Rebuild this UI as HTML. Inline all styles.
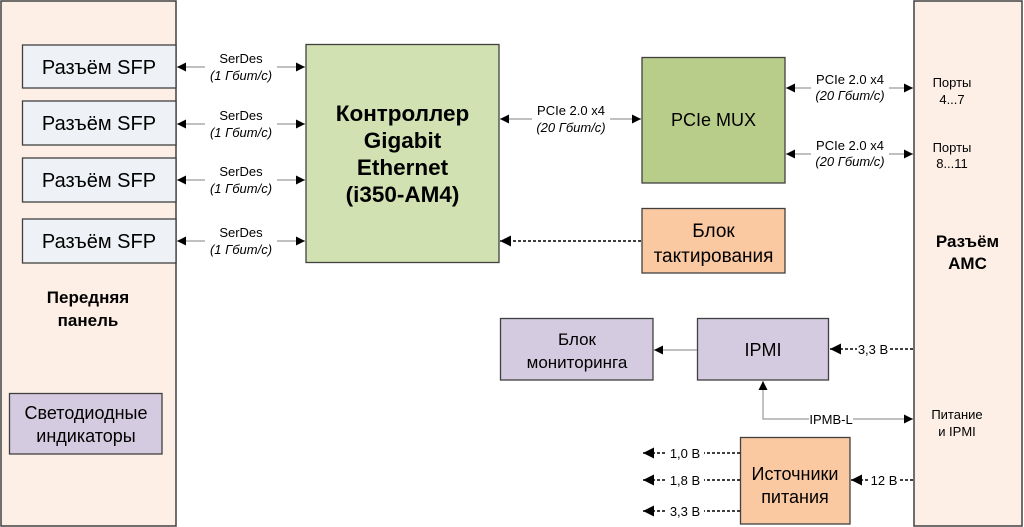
<!DOCTYPE html>
<html><head><meta charset="utf-8"><style>
html,body{margin:0;padding:0;background:#fff;}
svg{display:block;}
text{font-family:"Liberation Sans",Arial,sans-serif;fill:#000;}
.s{font-size:13px;}
.i{font-size:13px;font-style:italic;}
</style></head><body>
<svg width="1024" height="527" viewBox="0 0 1024 527" xmlns="http://www.w3.org/2000/svg">
<defs>
<marker id="ah" viewBox="0 0 10 10" refX="10" refY="5" markerWidth="9" markerHeight="9" markerUnits="userSpaceOnUse" orient="auto-start-reverse">
<path d="M0,0 L10,5 L0,10 z" fill="#000"/>
</marker>
<marker id="ahb" viewBox="0 0 10 10" refX="10" refY="5" markerWidth="11" markerHeight="11" markerUnits="userSpaceOnUse" orient="auto-start-reverse">
<path d="M0,0 L10,5 L0,10 z" fill="#000"/>
</marker>
</defs>

<!-- Left panel -->
<rect x="1" y="1" width="175" height="525" fill="#fdefe5" stroke="#404040" stroke-width="1.5"/>
<!-- AMC panel -->
<rect x="914" y="1" width="108" height="525" fill="#fdefe5" stroke="#404040" stroke-width="1.5"/>

<!-- SFP boxes -->
<g fill="#eef1f5" stroke="#404040" stroke-width="1.3">
<rect x="22.5" y="45" width="153.5" height="43"/>
<rect x="22.5" y="101" width="153.5" height="44"/>
<rect x="22.5" y="158" width="153.5" height="44"/>
<rect x="22.5" y="219" width="153.5" height="44"/>
</g>
<g font-size="20" text-anchor="middle">
<text x="99" y="74">Разъём SFP</text>
<text x="99" y="130">Разъём SFP</text>
<text x="99" y="187">Разъём SFP</text>
<text x="99" y="248">Разъём SFP</text>
</g>

<!-- Front panel labels -->
<text x="88" y="303" font-size="17" font-weight="bold" text-anchor="middle">Передняя</text>
<text x="88" y="326" font-size="17" font-weight="bold" text-anchor="middle">панель</text>
<rect x="9.5" y="393.5" width="152.5" height="60.5" fill="#d5cbe0" stroke="#404040" stroke-width="1.3"/>
<text x="86" y="419" font-size="18" text-anchor="middle">Светодиодные</text>
<text x="86" y="442" font-size="18" text-anchor="middle">индикаторы</text>

<!-- Controller -->
<rect x="306" y="44.5" width="193" height="218" fill="#d2e1b2" stroke="#404040" stroke-width="1.3"/>
<g font-size="22.5" font-weight="bold" text-anchor="middle">
<text x="402.5" y="121">Контроллер</text>
<text x="402.5" y="148">Gigabit</text>
<text x="402.5" y="175">Ethernet</text>
<text x="402.5" y="202">(i350-AM4)</text>
</g>

<!-- SerDes arrows -->
<g stroke="#9a9a9a" stroke-width="1.2" fill="none">
<line x1="177" y1="67" x2="305" y2="67" marker-start="url(#ah)" marker-end="url(#ah)"/>
<line x1="177" y1="124" x2="305" y2="124" marker-start="url(#ah)" marker-end="url(#ah)"/>
<line x1="177" y1="180" x2="305" y2="180" marker-start="url(#ah)" marker-end="url(#ah)"/>
<line x1="177" y1="241" x2="305" y2="241" marker-start="url(#ah)" marker-end="url(#ah)"/>
</g>
<g fill="#fff">
<rect x="205" y="50" width="72" height="31"/>
<rect x="205" y="107" width="72" height="31"/>
<rect x="205" y="163" width="72" height="31"/>
<rect x="205" y="224" width="72" height="31"/>
</g>
<g text-anchor="middle">
<text class="s" x="241" y="63">SerDes</text><text class="i" x="241" y="80">(1 Гбит/с)</text>
<text class="s" x="241" y="120">SerDes</text><text class="i" x="241" y="137">(1 Гбит/с)</text>
<text class="s" x="241" y="176">SerDes</text><text class="i" x="241" y="193">(1 Гбит/с)</text>
<text class="s" x="241" y="237">SerDes</text><text class="i" x="241" y="254">(1 Гбит/с)</text>
</g>

<!-- PCIe MUX -->
<rect x="642" y="57.5" width="143" height="125.5" fill="#b9cd8a" stroke="#404040" stroke-width="1.3"/>
<text x="713.5" y="126" font-size="18" text-anchor="middle">PCIe MUX</text>

<!-- Controller <-> MUX -->
<line x1="500" y1="119" x2="641" y2="119" stroke="#9a9a9a" stroke-width="1.2" marker-start="url(#ah)" marker-end="url(#ah)"/>
<rect x="532" y="102" width="78" height="32" fill="#fff"/>
<text class="s" x="571" y="115" text-anchor="middle">PCIe 2.0 x4</text>
<text class="i" x="571" y="132" text-anchor="middle">(20 Гбит/с)</text>

<!-- MUX <-> AMC -->
<line x1="786" y1="88" x2="913" y2="88" stroke="#9a9a9a" stroke-width="1.2" marker-start="url(#ah)" marker-end="url(#ah)"/>
<line x1="786" y1="154" x2="913" y2="154" stroke="#9a9a9a" stroke-width="1.2" marker-start="url(#ah)" marker-end="url(#ah)"/>
<rect x="811" y="71" width="78" height="32" fill="#fff"/>
<rect x="811" y="137" width="78" height="32" fill="#fff"/>
<text class="s" x="850" y="84" text-anchor="middle">PCIe 2.0 x4</text>
<text class="i" x="850" y="100" text-anchor="middle">(20 Гбит/с)</text>
<text class="s" x="850" y="150" text-anchor="middle">PCIe 2.0 x4</text>
<text class="i" x="850" y="166" text-anchor="middle">(20 Гбит/с)</text>

<!-- AMC labels -->
<text class="s" x="952" y="87" text-anchor="middle">Порты</text>
<text class="s" x="952" y="104" text-anchor="middle">4...7</text>
<text class="s" x="952" y="152" text-anchor="middle">Порты</text>
<text class="s" x="952" y="168" text-anchor="middle">8...11</text>
<text x="967.5" y="247" font-size="17" font-weight="bold" text-anchor="middle">Разъём</text>
<text x="967.5" y="269" font-size="17" font-weight="bold" text-anchor="middle">АМС</text>
<text class="s" x="957" y="419" text-anchor="middle">Питание</text>
<text class="s" x="957" y="436" text-anchor="middle">и IPMI</text>

<!-- Clock block -->
<rect x="642" y="208.5" width="143" height="64.5" fill="#fbc9a1" stroke="#404040" stroke-width="1.3"/>
<text x="713.5" y="237" font-size="19" text-anchor="middle">Блок</text>
<text x="713.5" y="262" font-size="19" text-anchor="middle">тактирования</text>
<line x1="641" y1="241" x2="500" y2="241" stroke="#000" stroke-width="1.6" stroke-dasharray="3,2" marker-end="url(#ahb)"/>

<!-- Monitor & IPMI -->
<rect x="500.5" y="318.5" width="152.5" height="61.5" fill="#d5cbe0" stroke="#404040" stroke-width="1.3"/>
<text x="577" y="345" font-size="17" text-anchor="middle">Блок</text>
<text x="577" y="368" font-size="17" text-anchor="middle">мониторинга</text>
<rect x="697.5" y="318.5" width="131" height="61.5" fill="#d5cbe0" stroke="#404040" stroke-width="1.3"/>
<text x="763" y="356" font-size="18" text-anchor="middle">IPMI</text>
<line x1="697" y1="350" x2="654" y2="350" stroke="#9a9a9a" stroke-width="1.2" marker-end="url(#ah)"/>

<!-- 3,3 V to IPMI -->
<line x1="913" y1="349" x2="830" y2="349" stroke="#000" stroke-width="1.6" stroke-dasharray="3,2" marker-end="url(#ahb)"/>
<rect x="857" y="341" width="32" height="16" fill="#fff"/>
<text class="s" x="873" y="354" text-anchor="middle">3,3 В</text>

<!-- IPMB-L -->
<polyline points="763,381 763,419 913,419" fill="none" stroke="#9a9a9a" stroke-width="1.2" marker-start="url(#ah)" marker-end="url(#ah)"/>
<rect x="809" y="411" width="44" height="16" fill="#fff"/>
<text class="s" x="831" y="424" text-anchor="middle">IPMB-L</text>

<!-- Power supplies -->
<rect x="740.5" y="437.5" width="109.5" height="86.5" fill="#fbc9a1" stroke="#404040" stroke-width="1.3"/>
<text x="795" y="480" font-size="18" text-anchor="middle">Источники</text>
<text x="795" y="503" font-size="18" text-anchor="middle">питания</text>
<g stroke="#000" stroke-width="1.6" stroke-dasharray="3,2" fill="none">
<line x1="740" y1="453" x2="643" y2="453" marker-end="url(#ahb)"/>
<line x1="740" y1="480" x2="643" y2="480" marker-end="url(#ahb)"/>
<line x1="740" y1="511" x2="643" y2="511" marker-end="url(#ahb)"/>
<line x1="913" y1="480" x2="851" y2="480" marker-end="url(#ahb)"/>
</g>
<g fill="#fff">
<rect x="667" y="445" width="37" height="16"/>
<rect x="667" y="472" width="37" height="16"/>
<rect x="667" y="503" width="37" height="16"/>
<rect x="870" y="472" width="28" height="16"/>
</g>
<g class="s" text-anchor="middle" font-size="13">
<text x="685" y="458">1,0 В</text>
<text x="685" y="485">1,8 В</text>
<text x="685" y="516">3,3 В</text>
<text x="884" y="485">12 В</text>
</g>
</svg>
</body></html>
